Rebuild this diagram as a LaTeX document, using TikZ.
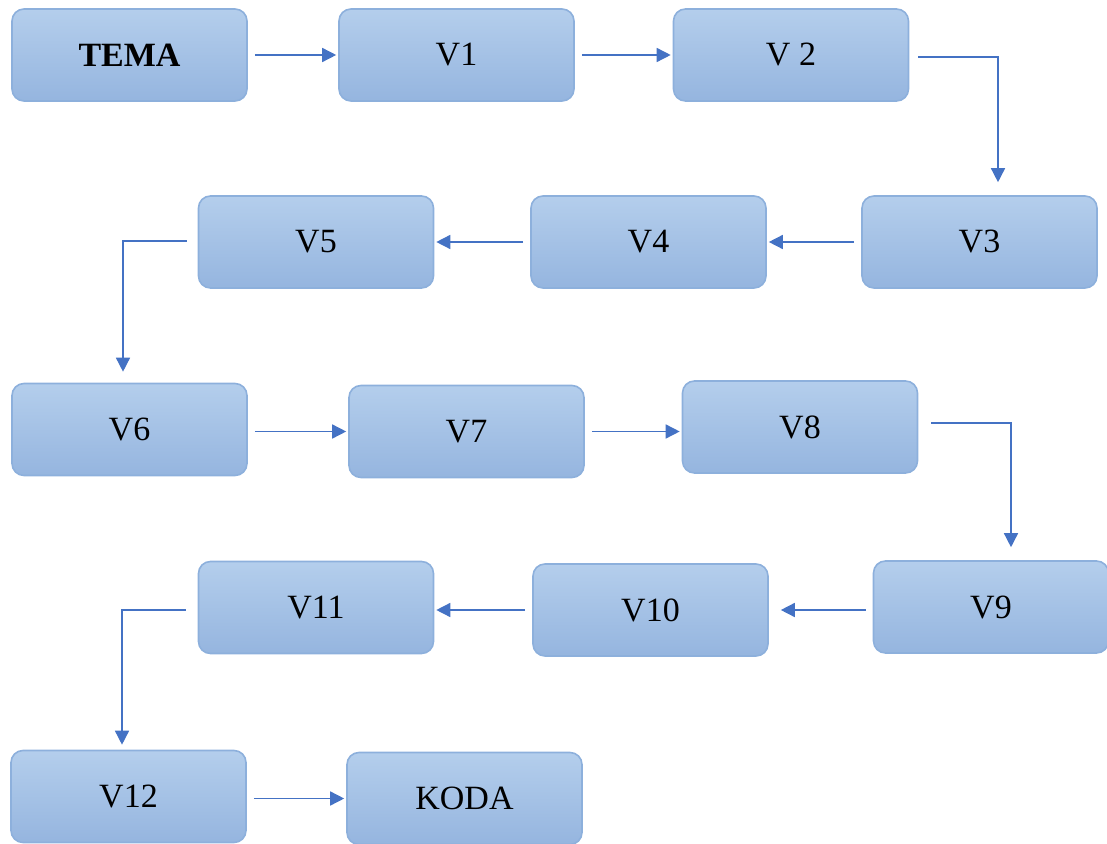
\documentclass[tikz,border=0pt]{standalone}
\usepackage{fontspec}
\setmainfont{Liberation Serif}
\usetikzlibrary{arrows.meta, calc}
\definecolor{vtop}{HTML}{B4CEEC}
\definecolor{vbot}{HTML}{95B5DF}
\definecolor{vline}{HTML}{8DB0DC}
\definecolor{varrow}{HTML}{4472C4}
\tikzset{
  vbox/.style={
    draw=vline, line width=.8pt, rounded corners=6pt,
    top color=vtop, bottom color=vbot,
    minimum width=117.5pt, minimum height=46pt, inner sep=0pt,
    font=\fontsize{17}{20}\selectfont},
  flow/.style={-{Triangle[length=7pt, width=7pt]}, draw=varrow,
    line width=.75pt, shorten <=3.5pt, shorten >=1pt},
}
\begin{document}
\begin{tikzpicture}[x=0.5pt, y=-0.5pt]
  \useasboundingbox (0,0) rectangle (1107,844);
  % row 1
  \node[vbox] (tema) at (129.5,55)  {\textbf{TEMA}};
  \node[vbox] (v1)   at (456.5,55)  {V1};
  \node[vbox] (v2)   at (791,55)    {V 2};
  % row 2
  \node[vbox] (v3)   at (979.5,242) {V3};
  \node[vbox] (v4)   at (648.5,242) {V4};
  \node[vbox] (v5)   at (316,242)   {V5};
  % row 3
  \node[vbox] (v6)   at (129.5,429.5) {V6};
  \node[vbox] (v7)   at (466.5,431.5) {V7};
  \node[vbox] (v8)   at (800,427)     {V8};
  % row 4
  \node[vbox] (v9)   at (991,607)   {V9};
  \node[vbox] (v10)  at (650.5,610) {V10};
  \node[vbox] (v11)  at (316,607.5) {V11};
  % row 5
  \node[vbox] (v12)  at (128.5,796.5) {V12};
  \node[vbox] (koda) at (464.5,798.5) {KODA};

  % bends
  \coordinate (b23)  at (998,57);
  \coordinate (b56)  at (123,241);
  \coordinate (b89)  at (1011,423);
  \coordinate (b1112) at (122,610);

  \draw[flow] (tema) -- (v1);
  \draw[flow] (v1) -- (v2);
  \draw[flow, shorten <=4.5pt, shorten >=6.5pt]
        (v2.east |- b23) -- (b23) -- (v3.north -| b23);
  \draw[flow] (v3) -- (v4);
  \draw[flow] (v4) -- (v5);
  \draw[flow, shorten <=5.5pt, shorten >=5.5pt]
        (v5.west |- b56) -- (b56) -- (v6.north -| b56);
  \draw[flow] (v6.east |- v7) -- (v7);
  \draw[flow] (v7) -- (v7.east -| v8.west);
  \draw[flow, shorten <=6.5pt, shorten >=6.5pt]
        (v8.east |- b89) -- (b89) -- (v9.north -| b89);
  \draw[flow, shorten >=6pt] (v9.west |- v10) -- (v10);
  \draw[flow] (v10) -- (v10.west -| v11.east);
  \draw[flow, shorten <=6pt, shorten >=2.5pt]
        (v11.west |- b1112) -- (b1112) -- (v12.north -| b1112);
  \draw[flow] (v12.east |- koda) -- (koda);
\end{tikzpicture}
\end{document}
